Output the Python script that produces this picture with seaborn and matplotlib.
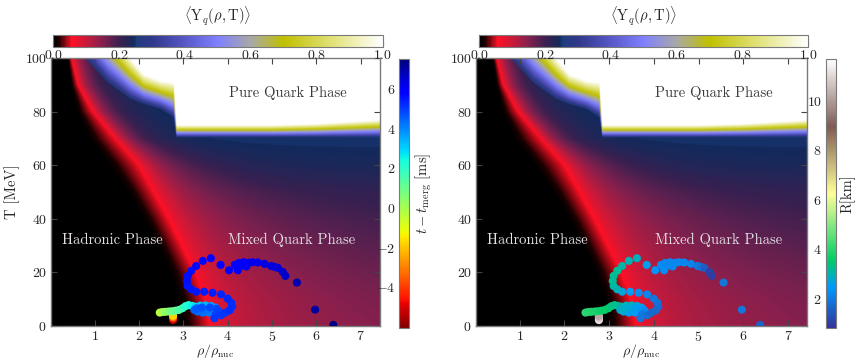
import matplotlib.pyplot as plt
import numpy as np
import seaborn as sns
from matplotlib.cm import ScalarMappable
from matplotlib.colors import LinearSegmentedColormap, Normalize

# --- Y_q(rho, T) background, boundaries ------------------------------------
T_nodes = [0, 10, 20, 30, 40, 50, 60, 70, 80, 90, 100]
rho_onset = [2.95, 2.88, 2.68, 2.40, 2.08, 1.72, 1.30, 0.85, 0.58, 0.45, 0.38]
rho_peak = [3.58, 3.47, 3.25, 2.95, 2.65, 2.32, 1.98, 1.45, 0.95, 0.62, 0.47]
y_far = [0.17, 0.175, 0.185, 0.195, 0.205, 0.215, 0.238, 0.25, 0.25, 0.25, 0.25]
fade_len = [3.0, 2.8, 2.6, 2.3, 2.0, 1.5, 1.1, 0.6, 0.5, 0.4, 0.35]

rho_q = [0.0, 0.8, 1.3, 1.8, 2.1, 2.5, 2.78, 2.84, 4.0, 5.0, 6.0, 7.0, 7.5]
T_q_lo = [112, 100, 91, 85, 83, 81, 78, 70.5, 70.5, 70.5, 70.5, 70.5, 70.5]
T_q_hi = [140, 124, 111, 100, 94, 91.5, 91, 75, 75, 75, 75.5, 76.5, 77]

# --- fluid element trajectory ---------------------------------------------
traj_rho = [2.77, 2.77, 2.77, 2.77,
            2.47, 2.53, 2.60, 2.67, 2.74, 2.82, 2.90,
            2.98, 3.05, 3.12, 3.20, 3.28,
            3.38, 3.50, 3.62, 3.72, 3.76, 3.70, 3.58, 3.44, 3.32, 3.25, 3.30, 3.42,
            3.60, 3.75, 3.80, 3.73, 3.70,
            3.85, 3.94, 4.04, 4.10, 4.08, 4.00, 3.85, 3.66, 3.47, 3.29, 3.18, 3.10,
            3.08, 3.10, 3.18, 3.29, 3.44, 3.62, 3.84, 4.03, 4.16, 4.23, 4.25, 4.32,
            4.36, 4.42, 4.47, 4.56, 4.68, 4.83, 4.98, 5.06, 5.13, 5.24, 5.30, 5.56,
            5.97, 6.38]
traj_T = [2.2, 2.8, 3.3, 3.8,
          5.0, 5.2, 5.3, 5.4, 5.5, 5.7, 6.0,
          6.6, 7.4, 7.8, 7.5, 7.2,
          7.6, 7.7, 7.5, 6.9, 6.1, 5.4, 5.0, 5.0, 5.4, 6.0, 6.6, 6.9,
          6.9, 6.4, 5.5, 4.3, 2.9,
          4.0, 4.9, 5.8, 7.2, 8.7, 10.2, 11.8, 12.4, 12.8, 12.8, 13.7, 14.9,
          16.8, 18.7, 20.6, 22.4, 24.3, 25.3, 22.8, 20.8, 22.8, 20.8, 23.5, 22.6,
          23.8, 22.2, 23.6, 23.8, 23.7, 23.2, 22.4, 22.0, 21.7, 20.2, 18.7, 16.2,
          6.1, 0.4]
traj_t = [-5.5, -4.5, -3.0, -1.8,
          -0.3, 0.0, 0.3, 0.6, 0.9, 1.1, 1.4,
          1.7, 2.0, 2.3, 2.6, 2.9,
          3.2, 3.4, 3.6, 3.8, 4.0, 4.1, 4.2, 4.3, 4.4, 4.5, 4.6, 4.7,
          4.8, 4.9, 5.0, 5.0, 5.1,
          5.1, 5.1, 5.2, 5.2, 5.2, 5.3, 5.3, 5.4, 5.4, 5.5, 5.5, 5.5,
          5.6, 5.6, 5.6, 5.7, 5.7, 5.8, 5.8, 5.9, 5.9, 6.0, 6.0, 6.0,
          6.1, 6.1, 6.1, 6.2, 6.2, 6.3, 6.3, 6.4, 6.4, 6.5, 6.6, 6.9,
          7.1, 7.4]
traj_R = [11.2, 11.0, 10.6, 10.2,
          4.0, 3.95, 3.9, 3.85, 3.8, 3.7, 3.6,
          3.5, 3.4, 3.3, 3.2, 3.1,
          3.0, 2.9, 2.8, 2.7, 2.6, 2.5, 2.5, 2.6, 2.7, 2.8, 2.9, 2.8,
          2.6, 2.4, 2.2, 2.0, 1.9,
          1.8, 1.7, 1.7, 1.7, 1.8, 1.9, 2.1, 2.3, 2.5, 2.7, 2.9, 3.1,
          3.2, 3.2, 3.2, 3.1, 3.0, 2.9, 2.6, 2.4, 2.3, 2.3, 2.2, 2.2,
          2.2, 2.2, 2.2, 2.2, 2.2, 2.1, 2.0, 1.8, 1.5, 1.1, 1.0, 1.9,
          1.9, 1.6]

XLIM = (0.02, 7.42)
T_RANGE = (0, 100)


def yq_field(rho, T):
    RR, TT = np.meshgrid(rho, T)
    onset = np.interp(TT, T_nodes, rho_onset)
    peak = np.interp(TT, T_nodes, rho_peak)
    far = np.interp(TT, T_nodes, y_far)
    lam = np.interp(TT, T_nodes, fade_len)
    rise = np.clip((RR - onset) / (peak - onset), 0, 1) * 0.055
    d = np.clip(RR - peak, 0, None)
    # quick drop out of the red ridge, then a slow drift towards the far value
    quick = 0.04 * (1 - np.exp(-d / 0.35))
    slow = (far - 0.095) * (1 - np.exp(-d / lam))
    mix = np.where(RR < peak, rise, 0.055 + quick + slow)
    lo = np.interp(RR, rho_q, T_q_lo)
    hi = np.interp(RR, rho_q, T_q_hi)
    frac = np.clip((TT - lo) / (hi - lo), 0, 1)
    return np.where(TT >= lo, 0.25 + 0.75 * frac, mix)


yq_stops = [0, 0.015, 0.055, 0.10, 0.15, 0.20, 0.245, 0.25, 0.30, 0.40, 0.50, 0.60, 0.70, 0.85, 1.0]
yq_colors = ["#000000", "#1a0000", "#ff1025", "#c81a3a", "#82204e", "#3a2050", "#122a5c",
             "#1e3c7c", "#30388a", "#5858c8", "#8080ff", "#a8a8a8", "#c0c000", "#e2e27a", "#ffffff"]
yq_cmap = LinearSegmentedColormap.from_list("yq", list(zip(yq_stops, yq_colors)))

sns.set_style("ticks")
plt.rcParams["font.family"] = "serif"
plt.rcParams["font.serif"] = ["cmr10", "DejaVu Serif"]
plt.rcParams["mathtext.fontset"] = "cm"
plt.rcParams["axes.formatter.use_mathtext"] = True
plt.rcParams["axes.unicode_minus"] = True

W, H = 857, 362
fig = plt.figure(figsize=(W / 100, H / 100), dpi=100)


def frac_box(x0, x1, y_top, y_bot):
    return [x0 / W, 1 - y_bot / H, (x1 - x0) / W, (y_bot - y_top) / H]


rho_grid = np.linspace(XLIM[0], XLIM[1], 700)
T_grid = np.linspace(T_RANGE[0], T_RANGE[1], 500)
field = yq_field(rho_grid, T_grid)

panels = [
    dict(ax=(51, 379.5, 58, 326), hcb=(53.3, 382.7, 35, 46.7), vcb=(399.3, 409.3, 59.3, 328.3),
         hue=traj_t, cmap="jet_r", norm=(-6.07, 7.5), ticks=[-4, -2, 0, 2, 4, 6],
         label=r"$t - t_{\mathrm{merg}}$ [ms]", ylabel=True),
    dict(ax=(476, 806.7, 58, 326), hcb=(479.3, 808.3, 35, 46.7), vcb=(826, 835.7, 59.3, 328.3),
         hue=traj_R, cmap="terrain", norm=(0.82, 11.67), ticks=[2, 4, 6, 8, 10],
         label="R[km]", ylabel=False),
]

spine_col = "#7a7a7a"
for p in panels:
    ax = fig.add_axes(frac_box(*p["ax"]))
    ax.imshow(field, extent=(XLIM[0], XLIM[1], T_RANGE[0], T_RANGE[1]), origin="lower",
              aspect="auto", cmap=yq_cmap, vmin=0, vmax=1, interpolation="bilinear")
    sns.scatterplot(x=traj_rho, y=traj_T, hue=p["hue"], palette=p["cmap"], hue_norm=p["norm"],
                    s=34, linewidth=0, legend=False, ax=ax, zorder=3)
    ax.set_xlim(*XLIM)
    ax.set_ylim(*T_RANGE)
    ax.set_xticks([1, 2, 3, 4, 5, 6, 7])
    ax.set_yticks([0, 20, 40, 60, 80, 100])
    ax.tick_params(direction="in", top=True, right=True, length=4, width=0.8,
                   color="#444444", labelsize=10, pad=3)
    for s in ax.spines.values():
        s.set_color(spine_col)
        s.set_linewidth(1.0)
    ax.set_xlabel(r"$\rho/\rho_{\mathrm{nuc}}$", fontsize=10, labelpad=-1.5)
    if p["ylabel"]:
        ax.set_ylabel("T [MeV]", fontsize=10.5, labelpad=3)
    ax.text(5.35, 86.9, "Pure Quark Phase", ha="center", va="center", color="#3a3a3a", fontsize=10.5)
    ax.text(1.39, 32, "Hadronic Phase", ha="center", va="center", color="#e6e2e4", fontsize=10.5)
    ax.text(5.45, 32, "Mixed Quark Phase", ha="center", va="center", color="#e6e0e4", fontsize=10.5)

    # horizontal Y_q colorbar
    cax = fig.add_axes(frac_box(*p["hcb"]))
    cb = fig.colorbar(ScalarMappable(Normalize(0, 1), yq_cmap), cax=cax, orientation="horizontal")
    cb.set_ticks([0, 0.2, 0.4, 0.6, 0.8, 1.0])
    cb.ax.tick_params(direction="in", length=4, width=0.8, color="#333333", labelsize=10, pad=2)
    cb.outline.set_edgecolor(spine_col)
    cax.set_title(r"$\langle \mathrm{Y}_q(\rho,\mathrm{T})\rangle$", fontsize=10.5, pad=10)

    # vertical colorbar for the trajectory colour: ticks on the left, label on the right
    vax = fig.add_axes(frac_box(*p["vcb"]))
    vb = fig.colorbar(ScalarMappable(Normalize(*p["norm"]), plt.get_cmap(p["cmap"])), cax=vax)
    vb.set_ticks(p["ticks"])
    vax.yaxis.set_ticks_position("left")
    vax.yaxis.set_label_position("right")
    vax.tick_params(direction="in", length=4, width=0.8, color="#333333", labelsize=10, pad=3)
    vb.outline.set_edgecolor(spine_col)
    vb.set_label(p["label"], fontsize=10.5, labelpad=3)

fig.savefig("out.png", dpi=100)
